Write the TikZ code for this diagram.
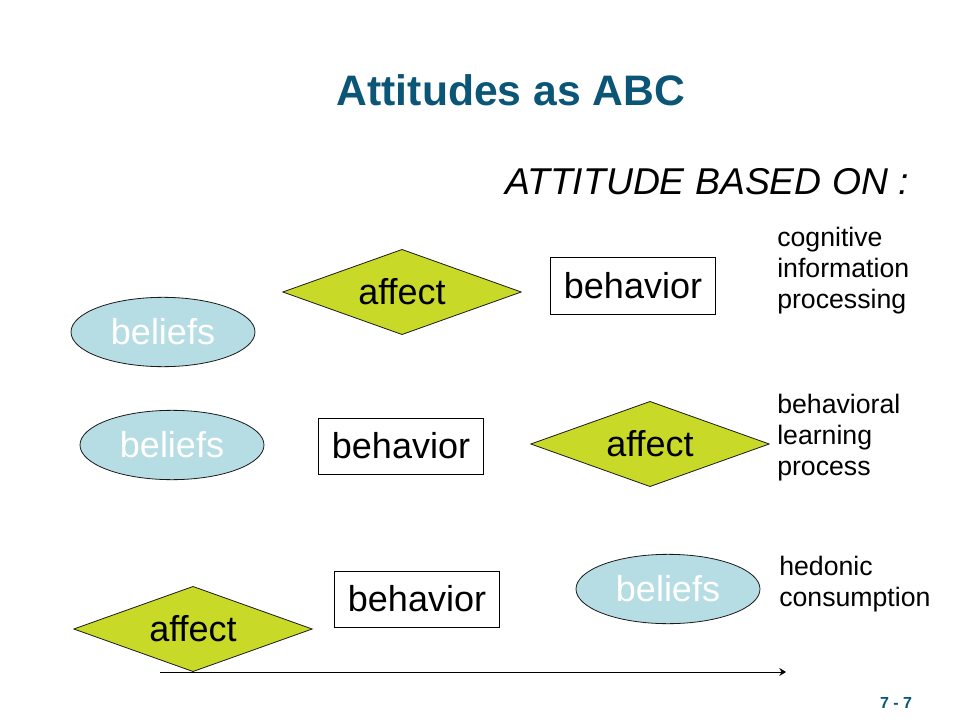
\documentclass[tikz,border=0pt]{standalone}
\usepackage{fontspec}
\setmainfont{Liberation Sans}
\usetikzlibrary{arrows.meta,shapes.geometric}
\definecolor{ftitle}{HTML}{0B5577}
\definecolor{fgreen}{HTML}{C9D928}
\definecolor{fsky}{HTML}{B6DDE3}
\definecolor{fink}{HTML}{1A1A1A}

\begin{document}
\begin{tikzpicture}[x=0.75pt,y=-0.75pt,>={Stealth[length=5pt,width=6pt]},
  word/.style={font=\fontsize{27}{30}\selectfont},
  box/.style={word,draw=black,line width=0.75pt,minimum width=124pt,
              minimum height=42pt,inner sep=0pt},
  rhomb/.style={word,diamond,aspect=2.8,draw=fink,line width=0.6pt,fill=fgreen,
                minimum width=179pt,minimum height=64pt,inner sep=0pt},
  oval/.style={word,ellipse,draw=fink,line width=0.6pt,fill=fsky,text=white,
               minimum width=138pt,minimum height=52pt,inner sep=0pt},
  lbl/.style={font=\fontsize{20}{23.25}\selectfont,align=left,anchor=north west,inner sep=0pt}]

\useasboundingbox (0,0) rectangle (960,720);

\node[font=\fontsize{32}{36}\selectfont\bfseries,text=ftitle] (title) at (511,90) {Attitudes as ABC};
\node[font=\fontsize{28}{32}\selectfont\itshape] (basis) at (707,182) {ATTITUDE BASED ON :};

% cognitive
\node[rhomb] (aff1) at (402,292) {affect};
\node[box] (beh1) at (633,286) {behavior};
\node[oval] (bel1) at (163,332) {beliefs};
\node[lbl] (note1) at (777,227) {cognitive\\information\\processing};

% behavioral learning
\node[oval] (bel2) at (172,445) {beliefs};
\node[box] (beh2) at (401,446) {behavior};
\node[rhomb] (aff2) at (650,444) {affect};
\node[lbl] (note2) at (777,394) {behavioral\\learning\\process};

% hedonic
\node[rhomb] (aff3) at (193,629) {affect};
\node[box] (beh3) at (417,599) {behavior};
\node[oval] (bel3) at (668,589) {beliefs};
\node[lbl] (note3) at (779,556) {hedonic\\consumption};

\coordinate (t0) at (160,672);
\coordinate (t1) at (786,672);
\draw[->,line width=0.75pt] (t0) -- (t1);

\node[font=\fontsize{12}{14}\selectfont\bfseries,text=ftitle] (pg) at (896,703) {7 - 7};
\end{tikzpicture}
\end{document}
